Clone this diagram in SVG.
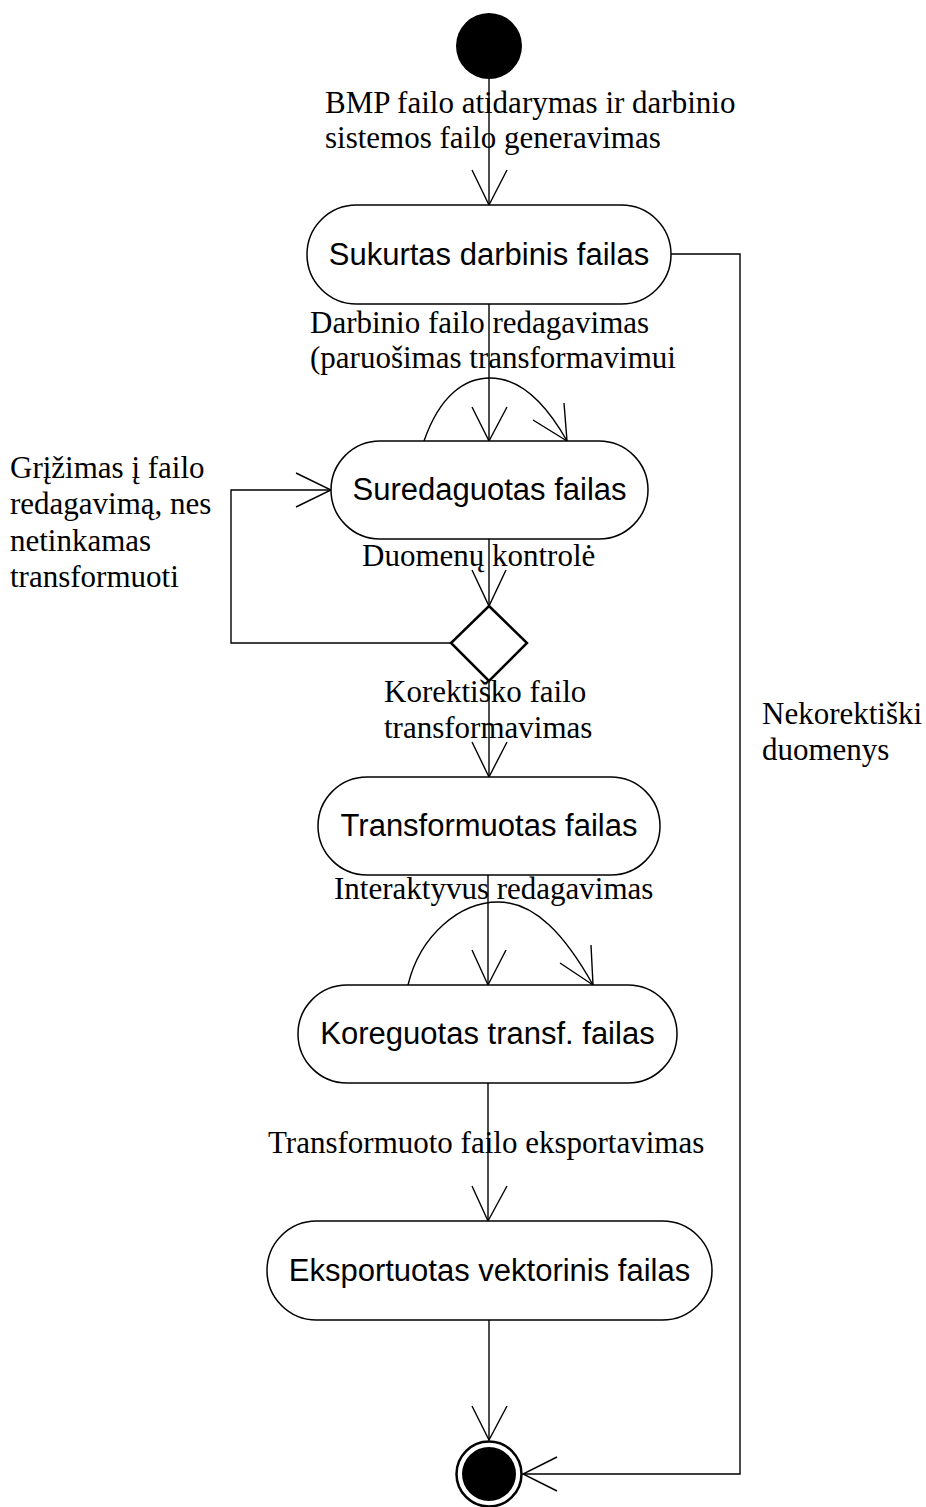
<svg xmlns="http://www.w3.org/2000/svg" width="926" height="1507" viewBox="0 0 926 1507">
  <style>
    .state { fill: #fff; stroke: #000; stroke-width: 1.5; }
    .stxt { font-family: "Liberation Sans", Arial, sans-serif; font-size: 31px; fill: #000; text-anchor: middle; }
    .lbl { font-family: "Liberation Serif", "Times New Roman", serif; font-size: 31px; fill: #000; }
    .edge { fill: none; stroke: #000; stroke-width: 1.4; }
    .head { fill: none; stroke: #000; stroke-width: 1.4; }
  </style>
  <rect width="926" height="1507" fill="#fff"/>

  <g id="connectors">
    <!-- start -> Sukurtas -->
    <path class="edge" d="M489,79 V205"/>
    <path class="head" d="M472,170 L489,205 L507,170"/>
    <!-- Sukurtas -> Suredaguotas -->
    <path class="edge" d="M489,304 V441"/>
    <path class="head" d="M472,407 L489,441 L507,407"/>
    <!-- self loop on Suredaguotas -->
    <path class="edge" d="M424,441 C440,395 465,378 490,378 C520,378 545,402 567,441"/>
    <path class="head" d="M533,420 L567,441 L564,403"/>
    <!-- Suredaguotas -> decision -->
    <path class="edge" d="M489,539 V606"/>
    <path class="head" d="M472,570 L489,606 L506,570"/>
    <!-- decision -> back to Suredaguotas -->
    <path class="edge" d="M451,643 H231 V490 H331"/>
    <path class="head" d="M296,473 L331,490 L296,507"/>
    <!-- decision -> Transformuotas -->
    <path class="edge" d="M489,681 V777"/>
    <path class="head" d="M472,742 L489,777 L507,742"/>
    <!-- Transformuotas -> Koreguotas -->
    <path class="edge" d="M488,875 V985"/>
    <path class="head" d="M472,950 L488,985 L506,950"/>
    <!-- self loop on Koreguotas -->
    <path class="edge" d="M408,985 C420,935 460,902 498,902 C535,902 565,935 593,985"/>
    <path class="head" d="M560,963 L593,985 L591,945"/>
    <!-- Koreguotas -> Eksportuotas -->
    <path class="edge" d="M488,1083 V1221"/>
    <path class="head" d="M472,1186 L488,1221 L507,1186"/>
    <!-- Eksportuotas -> end -->
    <path class="edge" d="M489,1320 V1440"/>
    <path class="head" d="M472,1406 L489,1440 L507,1406"/>
    <!-- Sukurtas -> end (invalid data) -->
    <path class="edge" d="M671,254 H740 V1474 H523"/>
    <path class="head" d="M557,1457 L523,1474 L557,1491"/>
  </g>

  <!-- connector labels -->
  <g id="labels">
    <text class="lbl" x="325" y="113">BMP failo atidarymas ir darbinio</text>
    <text class="lbl" x="325" y="148">sistemos failo generavimas</text>
    <text class="lbl" x="310" y="333">Darbinio failo redagavimas</text>
    <text class="lbl" x="310" y="368">(paruošimas transformavimui</text>
    <text class="lbl" x="10" y="478">Grįžimas į failo</text>
    <text class="lbl" x="10" y="514">redagavimą, nes</text>
    <text class="lbl" x="10" y="551">netinkamas</text>
    <text class="lbl" x="10" y="587">transformuoti</text>
    <text class="lbl" x="362" y="566">Duomenų kontrolė</text>
    <text class="lbl" x="384" y="702">Korektiško failo</text>
    <text class="lbl" x="384" y="738">transformavimas</text>
    <text class="lbl" x="334" y="899">Interaktyvus redagavimas</text>
    <text class="lbl" x="268" y="1153">Transformuoto failo eksportavimas</text>
    <text class="lbl" x="762" y="724">Nekorektiški</text>
    <text class="lbl" x="762" y="760">duomenys</text>
  </g>

  <g id="start">
    <circle cx="489" cy="46" r="33" fill="#000"/>
  </g>

  <g id="sukurtas">
    <rect class="state" x="307" y="205" width="364" height="99" rx="49.5"/>
    <text class="stxt" x="489" y="265">Sukurtas darbinis failas</text>
  </g>

  <g id="suredaguotas">
    <rect class="state" x="331" y="441" width="317" height="98" rx="49"/>
    <text class="stxt" x="489.5" y="500">Suredaguotas failas</text>
  </g>

  <g id="decision">
    <polygon points="489,606 527,643 489,681 451,643" fill="#fff" stroke="#000" stroke-width="2.5"/>
  </g>

  <g id="transformuotas">
    <rect class="state" x="318" y="777" width="342" height="98" rx="49"/>
    <text class="stxt" x="489" y="836">Transformuotas failas</text>
  </g>

  <g id="koreguotas">
    <rect class="state" x="298" y="985" width="379" height="98" rx="49"/>
    <text class="stxt" x="487.5" y="1044">Koreguotas transf. failas</text>
  </g>

  <g id="eksportuotas">
    <rect class="state" x="267" y="1221" width="445" height="99" rx="49.5"/>
    <text class="stxt" x="489.5" y="1281">Eksportuotas vektorinis failas</text>
  </g>

  <g id="end">
    <circle cx="489" cy="1474" r="32.5" fill="#fff" stroke="#000" stroke-width="2.5"/>
    <circle cx="489" cy="1474" r="27" fill="#000"/>
  </g>
</svg>
